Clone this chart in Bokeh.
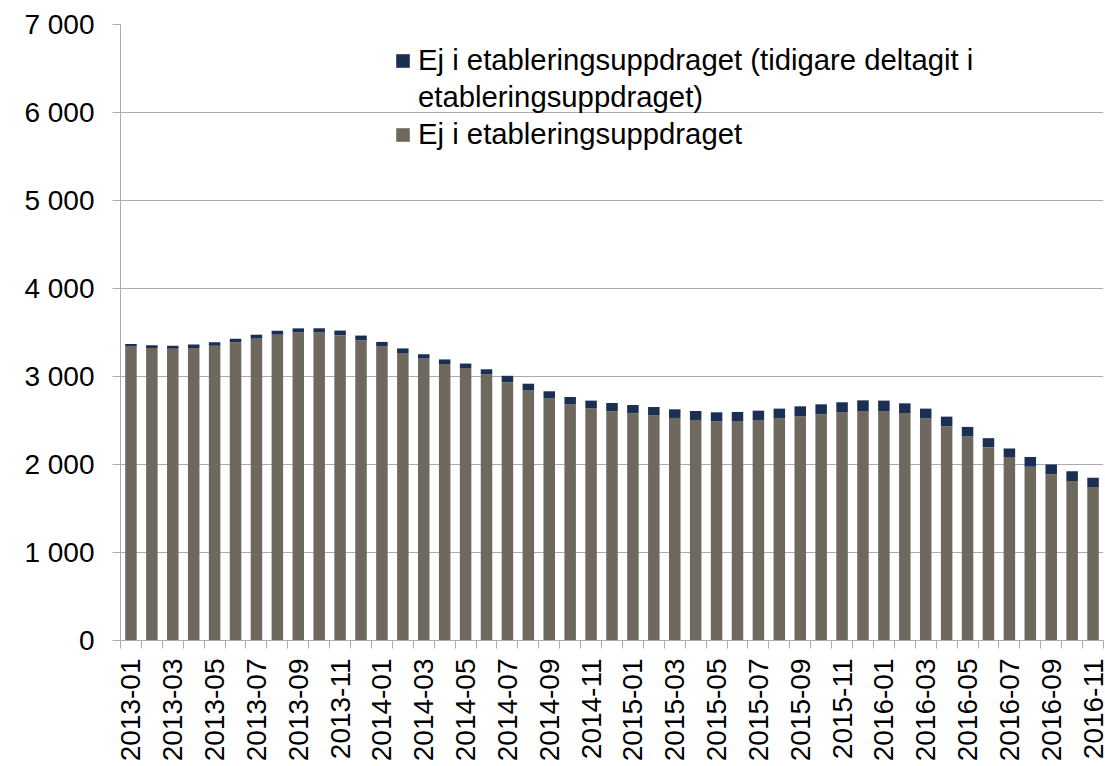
from bokeh.plotting import figure
from bokeh.models import Range1d, FixedTicker, Legend, LegendItem, ColumnDataSource
from bokeh.embed import file_html
from bokeh.resources import INLINE

months = ["2013-01", "2013-02", "2013-03", "2013-04", "2013-05", "2013-06", "2013-07", "2013-08",
          "2013-09", "2013-10", "2013-11", "2013-12", "2014-01", "2014-02", "2014-03", "2014-04",
          "2014-05", "2014-06", "2014-07", "2014-08", "2014-09", "2014-10", "2014-11", "2014-12",
          "2015-01", "2015-02", "2015-03", "2015-04", "2015-05", "2015-06", "2015-07", "2015-08",
          "2015-09", "2015-10", "2015-11", "2015-12", "2016-01", "2016-02", "2016-03", "2016-04",
          "2016-05", "2016-06", "2016-07", "2016-08", "2016-09", "2016-10", "2016-11"]

ej_i = [3340, 3325, 3315, 3325, 3350, 3385, 3430, 3475, 3500, 3500, 3470, 3412, 3343, 3267,
        3203, 3142, 3090, 3025, 2935, 2843, 2752, 2684, 2639, 2605, 2582, 2559, 2529, 2506,
        2491, 2488, 2506, 2525, 2548, 2571, 2593, 2608, 2608, 2585, 2525, 2435, 2318, 2197,
        2084, 1974, 1888, 1812, 1744]

tidigare = [28, 30, 35, 38, 40, 43, 45, 45, 47, 48, 52, 53, 50, 52, 50, 52, 57, 57, 73, 75,
            80, 83, 87, 94, 94, 94, 98, 102, 102, 109, 106, 110, 113, 113, 114, 121, 118, 110,
            110, 109, 109, 102, 98, 110, 113, 110, 106]

y_ticks = [0, 1000, 2000, 3000, 4000, 5000, 6000, 7000]

# legend name of the upper series, shown wrapped on two lines as in the original
series_tidigare_lines = ["Ej i etableringsuppdraget (tidigare deltagit i", "etableringsuppdraget)"]
series_ej_i = "Ej i etableringsuppdraget"

GRAY = "#6F685E"
NAVY = "#1B2F52"
GRID = "#ABABAB"
FONT = "Liberation Sans"

n = len(months)
xs = [i + 0.5 for i in range(n)]
tops = [a + b for a, b in zip(ej_i, tidigare)]
src = ColumnDataSource(dict(x=xs, ej=ej_i, tid=tidigare, top=tops))

p = figure(width=1104, height=764, output_backend="svg", toolbar_location=None,
           x_range=Range1d(0, n), y_range=Range1d(0, 7000),
           min_border_left=120, min_border_top=24, min_border_right=1, min_border_bottom=122)
p.outline_line_color = None

r_gray = p.vbar(x="x", bottom=0, top="ej", width=0.55, color=GRAY, line_color=None, source=src)
r_navy = p.vbar(x="x", bottom="ej", top="top", width=0.55, color=NAVY, line_color=None, source=src)
# invisible renderer used only for the wrapped second line of the legend text
r_blank = p.vbar(x=[], bottom=[], top=[], width=0.55, fill_alpha=0, line_alpha=0)

# y axis
p.yaxis.ticker = FixedTicker(ticks=y_ticks)
p.yaxis.major_label_overrides = {t: f"{t:,}".replace(",", " ") for t in y_ticks}
p.yaxis.major_tick_out = 8
p.yaxis.major_tick_in = 0
p.yaxis.minor_tick_out = 0
p.yaxis.minor_tick_in = 0
p.yaxis.axis_line_color = GRID
p.yaxis.major_tick_line_color = GRID
p.yaxis.major_label_standoff = 18
p.yaxis.major_label_text_font = FONT
p.yaxis.major_label_text_font_size = "28px"
p.yaxis.major_label_text_color = "#000000"

# x axis: labels at every other month, ticks at category boundaries
label_pos = [xs[i] for i in range(0, n, 2)]
p.xaxis.ticker = FixedTicker(ticks=label_pos, minor_ticks=list(range(n + 1)))
p.xaxis.major_label_overrides = {xs[i]: months[i] for i in range(0, n, 2)}
p.xaxis.major_label_orientation = 1.5708
p.xaxis.major_tick_out = 0
p.xaxis.major_tick_in = 0
p.xaxis.minor_tick_out = 8
p.xaxis.minor_tick_in = 0
p.xaxis.minor_tick_line_color = GRID
p.xaxis.axis_line_color = GRID
p.xaxis.major_label_standoff = 10
p.xaxis.major_label_text_font = FONT
p.xaxis.major_label_text_font_size = "28px"
p.xaxis.major_label_text_color = "#000000"

p.xgrid.grid_line_color = None
p.ygrid.ticker = FixedTicker(ticks=y_ticks)
p.ygrid.grid_line_color = GRID
p.ygrid.grid_line_width = 1

legend = Legend(items=[LegendItem(label=series_tidigare_lines[0], renderers=[r_navy]),
                       LegendItem(label=series_tidigare_lines[1], renderers=[r_blank]),
                       LegendItem(label=series_ej_i, renderers=[r_gray])],
                location=(274, 489), padding=0, margin=0, spacing=3,
                glyph_width=17, glyph_height=17, label_standoff=7,
                label_text_font=FONT, label_text_font_size="29.3px",
                label_text_color="#000000", border_line_color=None,
                background_fill_alpha=0)
p.add_layout(legend)

open("out.html", "w").write(file_html(p, INLINE))
